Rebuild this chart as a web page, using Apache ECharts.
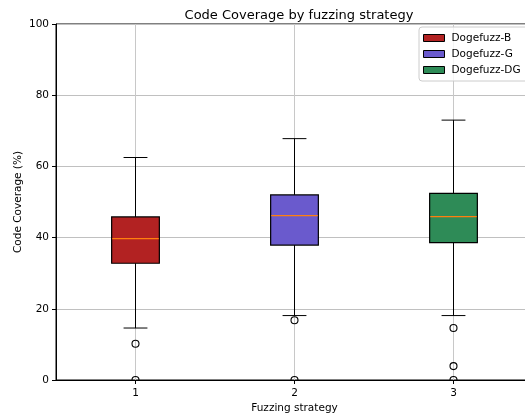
<!DOCTYPE html>
<html>
<head>
<meta charset="utf-8">
<script src="https://cdn.jsdelivr.net/npm/echarts@6/dist/echarts.min.js"></script>
<style>html,body{margin:0;padding:0;background:#fff;}#c{width:525px;height:414px;}</style>
</head>
<body>
<div id="c"></div>
<script>
// categories (x positions) and series
const positions = [1, 2, 3];
const strategies = ['Dogefuzz-B', 'Dogefuzz-G', 'Dogefuzz-DG'];
const colors = ['#b22222', '#6a5acd', '#2e8b57'];
// [lowerWhisker, q1, median, q3, upperWhisker]
const boxB = [14.6, 32.8, 39.7, 45.8, 62.5];
const boxG = [18.1, 37.9, 46.2, 52.0, 67.8];
const boxDG = [18.1, 38.6, 45.9, 52.4, 73.0];
const boxes = [boxB, boxG, boxDG];
// outliers: [position, value]
const outliersB = [[1, 10.2], [1, 0]];
const outliersG = [[2, 16.8], [2, 0]];
const outliersDG = [[3, 14.6], [3, 3.9], [3, 0]];
const yTicks = [0, 20, 40, 60, 80, 100];

const FONT = 'DejaVu Sans';
const FS = 10.5;
const chart = echarts.init(document.getElementById('c'), null, {renderer: 'canvas'});

function boxRender(params, api) {
  const x = api.value(0);
  const lo = api.value(1), q1 = api.value(2), med = api.value(3), q3 = api.value(4), hi = api.value(5);
  const halfW = api.size([0.3, 0])[0] / 2;
  const capW = halfW / 2;
  const pLo = api.coord([x, lo]), pQ1 = api.coord([x, q1]), pMed = api.coord([x, med]), pQ3 = api.coord([x, q3]), pHi = api.coord([x, hi]);
  const cx = Math.round(pQ1[0]) - 0.5;
  const color = api.visual('color');
  const ls = {stroke: '#000', lineWidth: 1};
  return {
    type: 'group',
    children: [
      {type: 'line', shape: {x1: cx, y1: pQ1[1], x2: cx, y2: pLo[1]}, style: ls},
      {type: 'line', shape: {x1: cx, y1: pQ3[1], x2: cx, y2: pHi[1]}, style: ls},
      {type: 'line', shape: {x1: cx - capW, y1: pLo[1], x2: cx + capW, y2: pLo[1]}, style: ls},
      {type: 'line', shape: {x1: cx - capW, y1: pHi[1], x2: cx + capW, y2: pHi[1]}, style: ls},
      {type: 'rect', shape: {x: cx - halfW, y: pQ3[1], width: halfW * 2, height: pQ1[1] - pQ3[1]}, style: {fill: color, stroke: '#000', lineWidth: 1.2}},
      {type: 'line', shape: {x1: cx - halfW + 0.6, y1: pMed[1], x2: cx + halfW - 0.6, y2: pMed[1]}, style: {stroke: '#ff7f0e', lineWidth: 1.3}}
    ]
  };
}

function outlierRender(params, api) {
  const p = api.coord([api.value(0), api.value(1)]);
  return {type: 'circle', shape: {cx: Math.round(p[0]) - 0.5, cy: p[1], r: 3.5}, style: {fill: 'none', stroke: '#000', lineWidth: 1.1}};
}

function gridRender(params, api) {
  const x = api.value(0);
  const top = api.coord([x, 100]);
  const bot = api.coord([x, 0]);
  const cx = Math.round(top[0]) - 0.5;
  return {type: 'line', shape: {x1: cx, y1: top[1], x2: cx, y2: bot[1]}, style: {stroke: '#c8c8c8', lineWidth: 1}};
}

const series = [{
  type: 'custom',
  name: '_grid',
  renderItem: gridRender,
  data: positions.map(p => [p, 0]),
  z: 0,
  silent: true,
  encode: {x: 0, y: 1}
}];
strategies.forEach((name, i) => {
  series.push({
    type: 'custom',
    name: name,
    renderItem: boxRender,
    itemStyle: {color: colors[i], borderColor: '#000', borderWidth: 1},
    data: [[positions[i]].concat(boxes[i])],
    encode: {x: 0, y: [1, 2, 3, 4, 5]},
    z: 3
  });
});
[outliersB, outliersG, outliersDG].forEach(o => {
  series.push({
    type: 'custom',
    name: '_out',
    renderItem: outlierRender,
    data: o,
    encode: {x: 0, y: 1},
    clip: true,
    z: 4,
    silent: true
  });
});

chart.setOption({
  animation: false,
  backgroundColor: '#fff',
  textStyle: {fontFamily: FONT},
  title: {
    text: 'Code Coverage by fuzzing strategy',
    left: 294, top: 4, textAlign: 'center',
    textStyle: {fontFamily: FONT, fontSize: 13, fontWeight: 'normal', color: '#000'}
  },
  legend: {
    orient: 'vertical',
    left: 419, top: 27,
    data: strategies.map((n, i) => ({name: n, icon: 'rect', itemStyle: {color: colors[i], borderColor: '#000', borderWidth: 1}})),
    itemWidth: 21, itemHeight: 7, itemGap: 4,
    padding: [5, 20, 5, 4],
    backgroundColor: 'rgba(255,255,255,0.8)',
    borderColor: '#cccccc', borderWidth: 1, borderRadius: 3,
    textStyle: {fontFamily: FONT, fontSize: FS, color: '#000', padding: [0, 0, 0, 2], lineHeight: 12},
    selectedMode: false
  },
  grid: {left: 56, top: 24, width: 477, height: 356, outerBoundsMode: 'none', containLabel: false, show: true, borderColor: '#000', borderWidth: 1},
  xAxis: {
    type: 'value', min: 0.5, max: 3.5,
    name: 'Fuzzing strategy', nameLocation: 'middle', nameGap: 23, nameMoveOverlap: false,
    nameTextStyle: {fontFamily: FONT, fontSize: FS, color: '#000'},
    axisLine: {show: true, onZero: false, lineStyle: {color: '#000', width: 1}},
    axisTick: {show: true, length: 4, customValues: positions, lineStyle: {color: '#000'}},
    axisLabel: {customValues: positions, fontFamily: FONT, fontSize: FS, color: '#000', margin: 8},
    splitLine: {show: false}
  },
  yAxis: {
    type: 'value', min: 0, max: 100, interval: 20,
    name: 'Code Coverage (%)', nameLocation: 'middle', nameGap: 32, nameRotate: 90, nameMoveOverlap: false,
    nameTextStyle: {fontFamily: FONT, fontSize: FS, color: '#000'},
    axisLine: {show: true, lineStyle: {color: '#000', width: 1}},
    axisTick: {show: true, length: 4, lineStyle: {color: '#000'}},
    axisLabel: {fontFamily: FONT, fontSize: FS, color: '#000', margin: 7, customValues: yTicks},
    splitLine: {show: true, lineStyle: {color: '#c0c0c0', width: 1}}
  },
  series: series
});
</script>
</body>
</html>
